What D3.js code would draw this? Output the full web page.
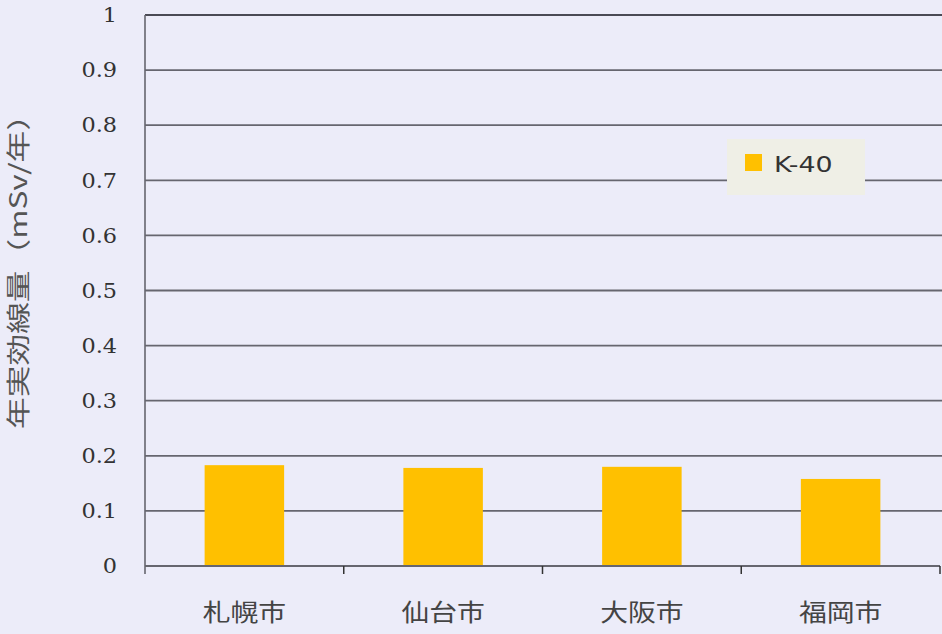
<!DOCTYPE html>
<html><head><meta charset="utf-8">
<script src="https://cdn.jsdelivr.net/npm/d3@7"></script>
<style>
html,body{margin:0;padding:0;background:#ececf9;}
svg{display:block;}
</style></head>
<body>
<svg id="c" width="942" height="634"></svg>
<script>
const categories = ["札幌市", "仙台市", "大阪市", "福岡市"];
const k40Values = [0.183, 0.178, 0.180, 0.158];
const yTicks = [0, 0.1, 0.2, 0.3, 0.4, 0.5, 0.6, 0.7, 0.8, 0.9, 1];
const yTickLabels = ["0", "0.1", "0.2", "0.3", "0.4", "0.5", "0.6", "0.7", "0.8", "0.9", "1"];
const seriesName = "K-40";
const yTitle = "年実効線量（mSv/年）";

const svg = d3.select("#c");
const m = {left: 145, right: 942, top: 15, bottom: 566};
const x = d3.scaleBand().domain(categories).range([m.left, 940]).paddingInner(0.6).paddingOuter(0.3);
const xEdges = d3.scaleLinear().domain([0, categories.length]).range([m.left, 940]);
const y = d3.scaleLinear().domain([0, 1]).range([m.bottom, m.top]);

svg.append("rect").attr("width", 942).attr("height", 634).attr("fill", "#ececf9");

// gridlines
svg.append("g").selectAll("line").data(yTicks.filter(d => d > 0)).join("line")
  .attr("x1", m.left).attr("x2", 942)
  .attr("y1", d => y(d)).attr("y2", d => y(d))
  .attr("stroke", d => d === 1 ? "#4a4a55" : "#66666f")
  .attr("stroke-width", d => d === 1 ? 2.2 : 1.8);

// bars
svg.append("g").selectAll("rect").data(categories).join("rect")
  .attr("x", d => x(d)).attr("width", x.bandwidth())
  .attr("y", (d, i) => y(k40Values[i])).attr("height", (d, i) => y(0) - y(k40Values[i]))
  .attr("fill", "#ffc000");

// x axis line
svg.append("line").attr("x1", m.left).attr("x2", 940).attr("y1", y(0)).attr("y2", y(0))
  .attr("stroke", "#66666f").attr("stroke-width", 1.8);
// y axis line
svg.append("line").attr("x1", m.left).attr("x2", m.left).attr("y1", m.top).attr("y2", y(0) + 8)
  .attr("stroke", "#66666f").attr("stroke-width", 1.6);
// x ticks at category boundaries
svg.append("g").selectAll("line").data(d3.range(1, categories.length + 1)).join("line")
  .attr("x1", d => xEdges(d)).attr("x2", d => xEdges(d))
  .attr("y1", y(0)).attr("y2", y(0) + 8)
  .attr("stroke", "#333").attr("stroke-width", 1.5);

// y tick labels
svg.append("g").selectAll("text").data(yTicks).join("text")
  .attr("transform", d => `translate(117,${y(d)}) scale(1.12,1)`)
  .attr("dy", "0.36em")
  .attr("text-anchor", "end")
  .attr("font-family", "'DejaVu Serif', serif")
  .attr("font-size", 20).attr("fill", "#333")
  .text((d, i) => yTickLabels[i]);

// x labels
svg.append("g").selectAll("text").data(categories).join("text")
  .attr("transform", d => `translate(${x(d) + x.bandwidth() / 2},621) scale(1.16,1)`)
  .attr("text-anchor", "middle")
  .attr("font-family", "'Noto Sans CJK JP', sans-serif")
  .attr("font-size", 24).attr("fill", "#444")
  .text(d => d);

// y title
svg.append("text")
  .attr("transform", "translate(27,264) rotate(-90) scale(1.32,1)")
  .attr("text-anchor", "middle")
  .attr("font-family", "'Noto Sans CJK JP', sans-serif")
  .attr("font-size", 24).attr("fill", "#555")
  .text(yTitle);

// legend
const lg = svg.append("g");
lg.append("rect").attr("x", 727).attr("y", 139).attr("width", 138).attr("height", 56).attr("fill", "#efefe6");
lg.append("rect").attr("x", 745).attr("y", 154).attr("width", 17).attr("height", 17).attr("fill", "#ffc000");
lg.append("text").attr("transform", "translate(774,172) scale(1.22,1)")
  .attr("font-family", "'DejaVu Sans', sans-serif").attr("font-size", 22).attr("fill", "#333")
  .text(seriesName);
</script>
</body></html>
